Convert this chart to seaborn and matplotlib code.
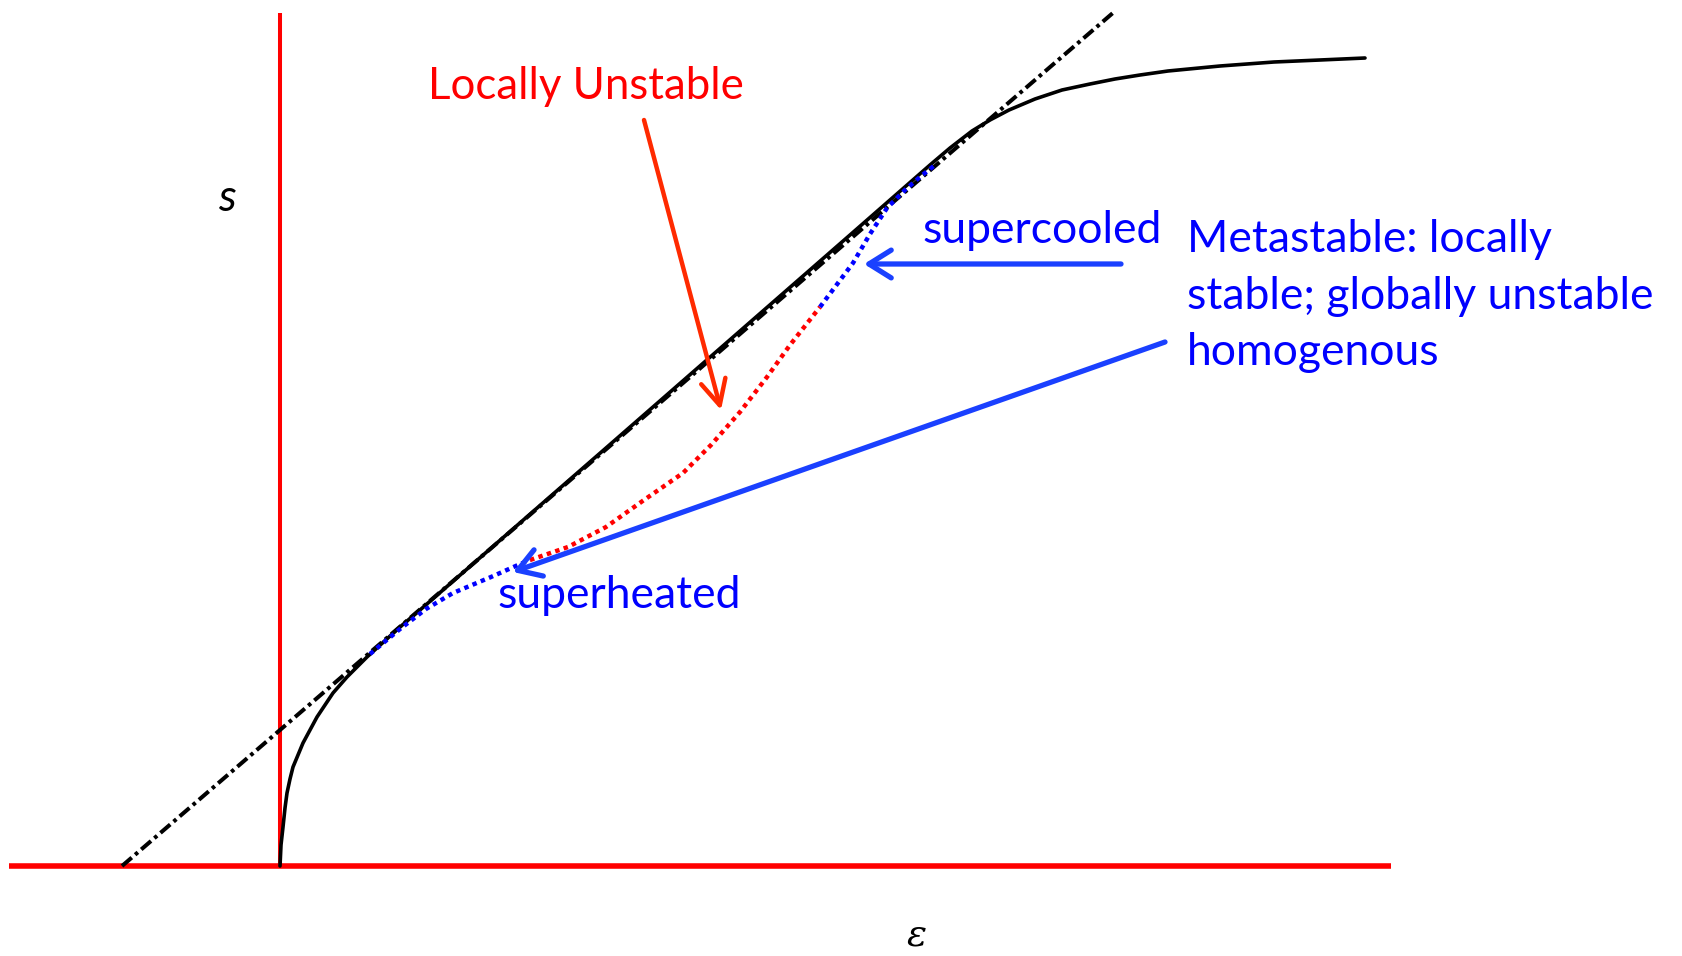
import numpy as np
import pandas as pd
import matplotlib.pyplot as plt
import seaborn as sns

# схема: кривая s(ε) с метастабильными и неустойчивыми ветвями
# единицы условные: начало координат в точке пересечения красных осей

# основная (равновесная) кривая
eq_eps = [0.00, 0.01, 0.03, 0.05, 0.07, 0.10, 0.13, 0.18, 0.23, 0.30, 0.37, 0.45, 0.53,
          0.67, 0.87, 1.20, 1.40, 3.26, 5.70, 6.50, 6.70, 6.92, 7.10, 7.29, 7.55, 7.82,
          8.10, 8.35, 8.60, 8.88, 9.40, 9.94, 10.40, 10.85]
eq_s = [0.00, 0.21, 0.39, 0.58, 0.73, 0.87, 0.99, 1.11, 1.23, 1.36, 1.49, 1.61, 1.73,
        1.89, 2.09, 2.39, 2.56, 4.18, 6.31, 7.01, 7.18, 7.35, 7.46, 7.56, 7.67, 7.76,
        7.82, 7.87, 7.91, 7.95, 8.00, 8.04, 8.06, 8.08]

# касательная (штрих-пунктир)
tan_eps = [-1.58, 8.34]
tan_s = [0.00, 8.54]

# перегретая ветвь (синяя, снизу)
heat_eps = [0.90, 1.20, 1.46, 1.73, 2.11, 2.38, 2.50]
heat_s = [2.12, 2.37, 2.57, 2.73, 2.89, 3.01, 3.06]

# локально неустойчивая ветвь (красная)
unst_eps = [2.50, 2.88, 3.26, 3.64, 4.03, 4.31, 4.60, 4.87, 5.10, 5.40]
unst_s = [3.06, 3.19, 3.39, 3.66, 3.93, 4.21, 4.54, 4.89, 5.21, 5.59]

# переохлаждённая ветвь (синяя, сверху)
cool_eps = [5.40, 5.73, 5.90, 6.07, 6.25, 6.40, 6.55]
cool_s = [5.59, 6.03, 6.32, 6.58, 6.76, 6.89, 7.01]

# оси
h_axis_eps = [-2.71, 11.11]
h_axis_s = [0.0, 0.0]
v_axis_eps = [0.0, 0.0]
v_axis_s = [0.0, 8.53]

meta_lines = ['Metastable: locally', 'stable; globally unstable', 'homogenous']

RED = '#FF0000'
BLUE = '#0000FF'
ARROW_BLUE = '#1A40FF'

sns.set_theme(style='white')
plt.rcParams['font.family'] = ['Lato', 'DejaVu Sans']

fig = plt.figure(figsize=(16.82, 9.56), dpi=100)
ax = fig.add_axes([0, 0, 1, 1])


def draw(x, y, **kw):
    df = pd.DataFrame({'eps': x, 's': y})
    sns.lineplot(data=df, x='eps', y='s', sort=False, estimator=None, ax=ax, **kw)


draw(h_axis_eps, h_axis_s, color=RED, linewidth=4.0, solid_capstyle='butt')
draw(v_axis_eps, v_axis_s, color=RED, linewidth=2.9, solid_capstyle='butt')
draw(tan_eps, tan_s, color='black', linewidth=2.9)
ax.lines[-1].set_linestyle((0, (3.2, 1.1, 0.9, 1.1)))
draw(eq_eps, eq_s, color='black', linewidth=2.6)
draw(heat_eps, heat_s, color=BLUE, linewidth=3.2)
ax.lines[-1].set_linestyle((0, (1.0, 1.0)))
draw(unst_eps, unst_s, color=RED, linewidth=3.2)
ax.lines[-1].set_linestyle((0, (1.0, 1.0)))
draw(cool_eps, cool_s, color=BLUE, linewidth=3.2)
ax.lines[-1].set_linestyle((0, (1.0, 1.0)))

# стрелки
ax.annotate('', xy=(4.41, 4.56), xytext=(3.64, 7.46),
            arrowprops=dict(arrowstyle='->,head_length=0.9,head_width=0.45',
                            color='#FF2A00', lw=3.2, mutation_scale=20,
                            shrinkA=0, shrinkB=0))
ax.annotate('', xy=(5.84, 6.02), xytext=(8.41, 6.02),
            arrowprops=dict(arrowstyle='->,head_length=0.8,head_width=0.5',
                            color=ARROW_BLUE, lw=3.8, mutation_scale=20,
                            shrinkA=0, shrinkB=0))
ax.annotate('', xy=(2.33, 2.94), xytext=(8.85, 5.24),
            arrowprops=dict(arrowstyle='->,head_length=0.8,head_width=0.5',
                            color=ARROW_BLUE, lw=3.8, mutation_scale=20,
                            shrinkA=0, shrinkB=0))

# подписи
ax.text(3.06, 7.67, 'Locally Unstable', color=RED, fontsize=31.5,
        ha='center', va='baseline')
ax.text(6.42, 6.23, 'supercooled', color=BLUE, fontsize=32, ha='left', va='baseline')
ax.text(2.17, 2.58, 'superheated', color=BLUE, fontsize=32, ha='left', va='baseline')
for i, line in enumerate(meta_lines):
    ax.text(9.07, 6.14 - 0.565 * i, line, color=BLUE, fontsize=32,
            ha='left', va='baseline')

ax.text(-0.53, 6.55, 's', color='black', fontsize=32, style='italic',
        ha='center', va='baseline')
ax.text(6.37, -0.80, 'ε', color='black', fontsize=27, style='italic',
        family='DejaVu Serif', ha='center', va='baseline')

ax.set_xlim(-2.80, 14.02)
ax.set_ylim(-0.90, 8.66)
ax.axis('off')

fig.savefig('out.png', dpi=100)
